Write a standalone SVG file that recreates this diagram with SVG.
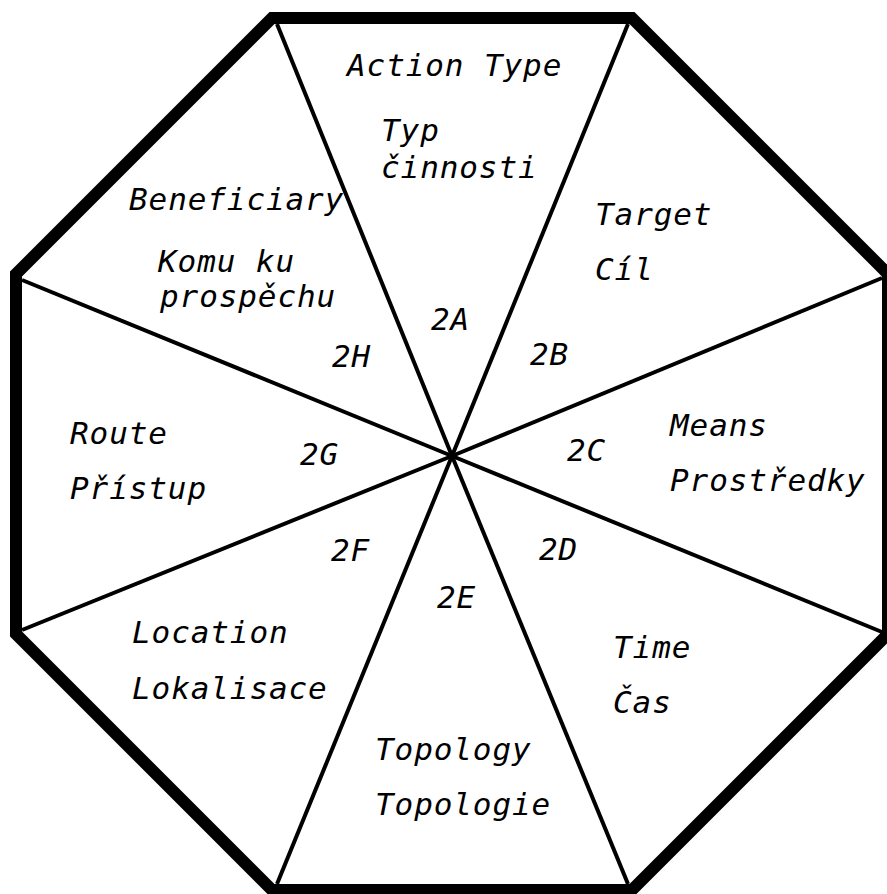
<svg xmlns="http://www.w3.org/2000/svg" width="887" height="894" viewBox="0 0 887 894">
  <style>
    .frame { fill: #ffffff; stroke: #000000; stroke-width: 12; stroke-linejoin: miter; }
    .spoke { stroke: #000000; stroke-width: 4; stroke-linecap: butt; fill: none; }
    text { font-family: "DejaVu Sans Mono", "Liberation Mono", monospace; font-style: italic; font-size: 31px; letter-spacing: 0.9px; fill: #000000; }
  </style>
  <rect width="887" height="894" fill="#ffffff"/>
  <g id="octagon">
    <polygon class="frame" points="272,18 632,18 888,274 888,634 632,890 272,890 16,634 16,274"/>
  </g>
  <g id="connectors">
    <line class="spoke" x1="277" y1="24" x2="452" y2="456"/>
    <line class="spoke" x1="628" y1="24" x2="452" y2="456"/>
    <line class="spoke" x1="882" y1="278" x2="452" y2="456"/>
    <line class="spoke" x1="882" y1="632" x2="452" y2="456"/>
    <line class="spoke" x1="628" y1="884" x2="452" y2="456"/>
    <line class="spoke" x1="277" y1="884" x2="452" y2="456"/>
    <line class="spoke" x1="22" y1="630" x2="452" y2="456"/>
    <line class="spoke" x1="22" y1="280" x2="452" y2="456"/>
  </g>
  <g id="sector-2A">
    <text x="347" y="76">Action Type</text>
    <text x="381" y="141">Typ</text>
    <text x="381" y="178">činnosti</text>
    <text x="431" y="330">2A</text>
  </g>
  <g id="sector-2B">
    <text x="595" y="225">Target</text>
    <text x="595" y="280">Cíl</text>
    <text x="530" y="365">2B</text>
  </g>
  <g id="sector-2C">
    <text x="670" y="436">Means</text>
    <text x="670" y="491">Prostředky</text>
    <text x="567" y="461">2C</text>
  </g>
  <g id="sector-2D">
    <text x="613" y="658">Time</text>
    <text x="613" y="713">Čas</text>
    <text x="539" y="560">2D</text>
  </g>
  <g id="sector-2E">
    <text x="375" y="760">Topology</text>
    <text x="375" y="815">Topologie</text>
    <text x="437" y="608">2E</text>
  </g>
  <g id="sector-2F">
    <text x="132" y="643">Location</text>
    <text x="132" y="699">Lokalisace</text>
    <text x="331" y="561">2F</text>
  </g>
  <g id="sector-2G">
    <text x="70" y="444">Route</text>
    <text x="70" y="499">Přístup</text>
    <text x="300" y="465">2G</text>
  </g>
  <g id="sector-2H">
    <text x="129" y="210">Beneficiary</text>
    <text x="158" y="272">Komu ku</text>
    <text x="160" y="307">prospěchu</text>
    <text x="332" y="367">2H</text>
  </g>
</svg>
